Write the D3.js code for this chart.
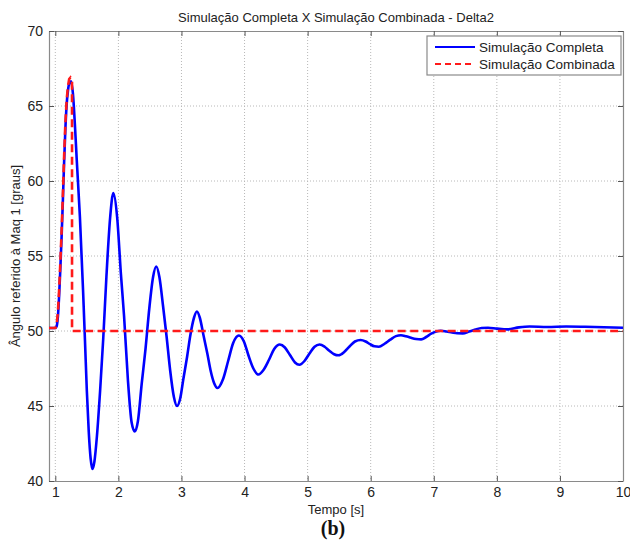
<!DOCTYPE html>
<html><head><meta charset="utf-8">
<script src="https://cdn.jsdelivr.net/npm/d3@7"></script>
<style>body{margin:0;background:#fff}svg{display:block}</style>
</head><body>
<svg id="c" width="630" height="541" font-family='"Liberation Sans",Arial,sans-serif'></svg>
<script>
const titleText = "Simulação Completa X Simulação Combinada - Delta2";
const xLabel = "Tempo [s]";
const yLabel = "Ângulo referido à Maq 1 [graus]";
const caption = "(b)";
const seriesNames = ["Simulação Completa", "Simulação Combinada"];
const xTicks = [1,2,3,4,5,6,7,8,9,10];
const yTicks = [40,45,50,55,60,65,70];

const completaT = [0.9,1.0,1.02,1.04,1.06,1.08,1.10,1.12,1.14,1.16,1.18,1.20,1.22,1.25,1.28,1.31,1.34,1.39,1.44,1.47,1.50,1.53,1.56,1.59,1.62,1.66,1.71,1.76,1.81,1.87,1.92,1.98,2.04,2.09,2.15,2.21,2.26,2.31,2.37,2.43,2.49,2.55,2.60,2.65,2.71,2.765,2.82,2.88,2.93,2.98,3.03,3.09,3.14,3.20,3.245,3.29,3.35,3.41,3.46,3.52,3.57,3.66,3.74,3.82,3.91,3.99,4.06,4.14,4.22,4.30,4.39,4.47,4.56,4.64,4.72,4.80,4.87,4.95,5.03,5.11,5.19,5.27,5.34,5.42,5.49,5.58,5.66,5.75,5.84,5.92,5.99,6.06,6.13,6.22,6.31,6.40,6.48,6.56,6.64,6.72,6.80,6.88,6.96,7.04,7.11,7.20,7.29,7.37,7.46,7.56,7.66,7.76,7.86,8.0,8.17,8.35,8.52,8.8,9.1,9.4,9.7,10.0];
const completaV = [50.2,50.2,50.3,50.9,52.3,54.2,56.3,58.7,61.3,63.5,65.1,66.0,66.5,66.65,65.8,63.8,61.4,57.6,52.7,49.4,46.0,43.3,41.5,40.8,41.3,43.0,46.0,49.5,53.6,57.6,59.2,57.6,53.8,51.0,46.8,43.9,43.3,44.0,46.5,48.8,51.5,53.6,54.3,53.6,51.6,49.6,47.4,45.6,45.0,45.5,46.8,48.3,49.7,50.9,51.3,50.9,49.7,48.5,47.4,46.5,46.2,46.8,48.0,49.2,49.7,49.3,48.4,47.5,47.1,47.4,48.1,48.8,49.1,48.9,48.4,47.9,47.75,48.0,48.5,48.95,49.1,48.95,48.7,48.45,48.38,48.6,48.95,49.3,49.4,49.3,49.12,48.98,48.95,49.15,49.42,49.66,49.72,49.65,49.55,49.47,49.44,49.6,49.82,49.97,50.02,49.97,49.9,49.85,49.84,49.96,50.1,50.2,50.22,50.16,50.11,50.24,50.3,50.27,50.3,50.28,50.25,50.22];

const combinadaT = [0.9,1.0,1.02,1.04,1.06,1.08,1.10,1.12,1.14,1.16,1.18,1.20,1.22,1.24,1.265,1.265,10.0];
const combinadaV = [50.2,50.2,50.4,51.2,52.7,54.6,56.7,59.1,61.7,63.9,65.4,66.3,66.8,66.9,66.7,50.0,50.0];

const svg = d3.select("#c");
const L = 49, R = 623, T = 31, B = 481;
const x = d3.scaleLinear().domain([0.9, 10]).range([L, R]);
const y = d3.scaleLinear().domain([40, 70]).range([B, T]);
const axisCol = "#8a8a8a";

// grid
const g = svg.append("g");
g.selectAll(".vg").data(xTicks.filter(d => d < 10)).enter().append("line")
  .attr("x1", d => x(d)).attr("x2", d => x(d)).attr("y1", T).attr("y2", B)
  .attr("stroke", "#b8b8b8").attr("stroke-width", 1).attr("stroke-dasharray", "1,2");
g.selectAll(".hg").data(yTicks.filter(d => d > 40 && d < 70)).enter().append("line")
  .attr("x1", L).attr("x2", R).attr("y1", d => y(d)).attr("y2", d => y(d))
  .attr("stroke", "#b8b8b8").attr("stroke-width", 1).attr("stroke-dasharray", "1,2");

// axes
const tickFmt = d3.format("d");
const xb = svg.append("g").attr("transform", `translate(0,${B})`)
  .call(d3.axisBottom(x).tickValues(xTicks).tickFormat(tickFmt).tickSizeInner(-5).tickSizeOuter(0).tickPadding(6));
const xt = svg.append("g").attr("transform", `translate(0,${T})`)
  .call(d3.axisTop(x).tickValues(xTicks).tickFormat("").tickSizeInner(-5).tickSizeOuter(0));
const yl = svg.append("g").attr("transform", `translate(${L},0)`)
  .call(d3.axisLeft(y).tickValues(yTicks).tickFormat(tickFmt).tickSizeInner(-5).tickSizeOuter(0).tickPadding(6));
const yr = svg.append("g").attr("transform", `translate(${R},0)`)
  .call(d3.axisRight(y).tickValues(yTicks).tickFormat("").tickSizeInner(-5).tickSizeOuter(0));
[xb, xt, yl, yr].forEach(a => {
  a.select(".domain").attr("stroke", axisCol).attr("stroke-width", 1.2);
  a.selectAll(".tick line").attr("stroke", "#555");
  a.selectAll(".tick text").attr("fill", "#222").attr("font-size", 14)
    .attr("font-family", '"Liberation Sans",Arial,sans-serif');
});
xb.selectAll(".tick text").attr("dy", "0.71em");

// lines
const completa = completaT.map((t, i) => [t, completaV[i]]);
const combinada = combinadaT.map((t, i) => [t, combinadaV[i]]);
svg.append("clipPath").attr("id", "clp").append("rect")
  .attr("x", L).attr("y", T).attr("width", R - L).attr("height", B - T);
const plot = svg.append("g").attr("clip-path", "url(#clp)");
plot.append("path").attr("d", d3.line().x(d => x(d[0])).y(d => y(d[1])).curve(d3.curveMonotoneX)(completa))
  .attr("fill", "none").attr("stroke", "#0000ff").attr("stroke-width", 2.6).attr("stroke-linejoin", "round");
plot.append("path").attr("d", d3.line().x(d => x(d[0])).y(d => y(d[1])).curve(d3.curveLinear)(combinada))
  .attr("fill", "none").attr("stroke", "#ff1a1a").attr("stroke-width", 2.6).attr("stroke-dasharray", "8,4.5");

// title & labels
svg.append("text").attr("x", (L + R) / 2).attr("y", 22).attr("text-anchor", "middle")
  .attr("font-size", 13).attr("fill", "#222").text(titleText);
svg.append("text").attr("x", (L + R) / 2).attr("y", 514).attr("text-anchor", "middle")
  .attr("font-size", 13).attr("fill", "#222").text(xLabel);
svg.append("text").attr("transform", `translate(20,${(T + B) / 2}) rotate(-90)`)
  .attr("text-anchor", "middle").attr("font-size", 13).attr("fill", "#222").text(yLabel);
svg.append("text").attr("x", 333).attr("y", 535).attr("text-anchor", "middle")
  .attr("font-family", '"Liberation Serif","Times New Roman",serif').attr("font-weight", "bold")
  .attr("font-size", 20).attr("fill", "#111").text(caption);

// legend
const lg = svg.append("g");
lg.append("rect").attr("x", 427).attr("y", 36).attr("width", 194).attr("height", 39)
  .attr("fill", "#fff").attr("stroke", axisCol).attr("stroke-width", 1.2);
const legCols = ["#0000ff", "#ff1a1a"];
const legDash = [null, "6,4"];
seriesNames.forEach((n, i) => {
  const yy = 47 + i * 17;
  const ln = lg.append("line").attr("x1", 435).attr("x2", 475).attr("y1", yy).attr("y2", yy)
    .attr("stroke", legCols[i]).attr("stroke-width", 2.2);
  if (legDash[i]) ln.attr("stroke-dasharray", legDash[i]);
  lg.append("text").attr("x", 479).attr("y", yy).attr("dy", "0.35em")
    .attr("font-size", 13.5).attr("fill", "#222").text(n);
});
</script>
</body></html>
